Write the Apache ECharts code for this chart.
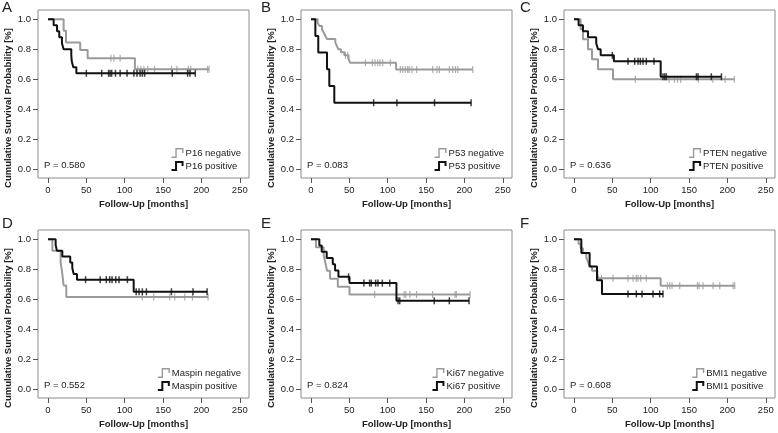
<!DOCTYPE html>
<html><head><meta charset="utf-8">
<script src="https://cdn.jsdelivr.net/npm/echarts@6/dist/echarts.min.js"></script>
<style>html,body{margin:0;padding:0;background:#fff}#c{width:778px;height:433px}</style>
</head><body><div id="c"></div>
<script>
// ---- tick labels / texts ----
const xTicks = [0, 50, 100, 150, 200, 250];
const yTicks = [0, 0.2, 0.4, 0.6, 0.8, 1.0];
const panelLetters = ['A', 'B', 'C', 'D', 'E', 'F'];
const markers = ['P16', 'P53', 'PTEN', 'Maspin', 'Ki67', 'BMI1'];
const pValues = ['0.580', '0.083', '0.636', '0.552', '0.824', '0.608'];
const xTitle = 'Follow-Up [months]';
const yTitle = 'Cumulative Survival Probability [%]';

// ---- Panel A: P16 ----
const A_negT = [0, 20.4, 23.5, 42, 51.7, 113.3];
const A_negS = [1, 0.923, 0.846, 0.795, 0.74, 0.667];
const A_negC = [82, 86, 94, 117, 121, 125, 130, 139, 161, 168, 183, 186, 208, 210];
const A_posT = [0, 7.4, 11.8, 14.7, 18.2, 20.4, 30.4, 31, 33, 37];
const A_posS = [1, 0.96, 0.92, 0.88, 0.84, 0.80, 0.76, 0.72, 0.68, 0.64];
const A_posC = [50, 70, 79, 81, 83, 88, 94, 103, 112, 116, 120, 123, 126, 162, 182, 185, 192];

// ---- Panel B: P53 ----
const B_negT = [0, 8.7, 10.9, 14.3, 16.5, 18.7, 20.9, 31.7, 33.5, 35.7, 39, 43.5, 49, 51, 110.9];
const B_negS = [1, 0.978, 0.956, 0.934, 0.912, 0.89, 0.868, 0.846, 0.824, 0.80, 0.78, 0.76, 0.735, 0.71, 0.665];
const B_negC = [45, 48, 71, 80, 83.5, 87, 90, 93.5, 103.5, 116.5, 119.6, 123, 126, 128, 131.7, 137.8, 158.7, 164.3, 167.4, 180.4, 184.8, 188.3, 191.3, 210.9];
const B_posT = [0, 5.7, 9.5, 20.9, 23.9, 30.4];
const B_posS = [1, 0.889, 0.778, 0.667, 0.556, 0.444];
const B_posC = [81.7, 112, 161, 208.7];

// ---- Panel C: PTEN ----
const C_negT = [0, 8.7, 11.7, 18.3, 23.5, 31.3, 50.9];
const C_negS = [1, 0.933, 0.867, 0.80, 0.733, 0.667, 0.60];
const C_negC = [80, 124, 131, 135, 139, 162, 181, 197, 209];
const C_posT = [0, 6, 11.7, 18.3, 29, 31.3, 34.8, 52, 113];
const C_posS = [1, 0.96, 0.92, 0.88, 0.84, 0.80, 0.76, 0.72, 0.617];
const C_posC = [50, 70.4, 79.1, 83.5, 86.5, 90, 94.3, 104.3, 116, 118.3, 120.4, 159.6, 161.7, 179, 192.2];

// ---- Panel D: Maspin ----
const D_negT = [0, 5.7, 16.5, 18.7, 20.4, 23.9];
const D_negS = [1, 0.923, 0.846, 0.769, 0.692, 0.615];
const D_negC = [123, 137.8, 158.7, 165.2, 178.3, 188.3, 208.7];
const D_posT = [0, 10, 11.7, 18.7, 29, 31.7, 33.5, 37.8, 111.7];
const D_posS = [1, 0.962, 0.923, 0.885, 0.846, 0.808, 0.769, 0.731, 0.65];
const D_posC = [49, 68, 76, 80.4, 83.5, 88.3, 92.6, 103.5, 115, 118.7, 123, 128.3, 160.9, 189, 207.4];

// ---- Panel E: Ki67 ----
const E_negT = [0, 6.5, 16.6, 18.8, 21, 24.9, 35, 50.2];
const E_negS = [1, 0.947, 0.895, 0.842, 0.79, 0.737, 0.684, 0.632];
const E_negC = [83, 121.4, 123.6, 128.8, 137.6, 158.5, 187.8, 189.5, 207.4];
const E_posT = [0, 10.9, 14, 20.5, 28.4, 31.4, 35.8, 50.2, 111.4];
const E_posS = [1, 0.958, 0.917, 0.875, 0.833, 0.792, 0.75, 0.708, 0.59];
const E_posC = [49, 69, 76.4, 78.6, 84.3, 87.3, 93, 102.6, 113.5, 115.7, 160.7, 180.3, 206];

// ---- Panel F: BMI1 ----
const F_negT = [0, 6, 8.7, 11.7, 16, 18.3, 20.4, 23.5, 30.4, 32.2, 113];
const F_negS = [1, 0.97, 0.94, 0.91, 0.88, 0.85, 0.82, 0.79, 0.765, 0.74, 0.69];
const F_negC = [35.7, 50.9, 70.4, 77, 81.3, 83.5, 87, 94.3, 121.7, 124.8, 127.8, 137.8, 160.9, 163, 168.3, 181.3, 190, 207.4, 209.6];
const F_posT = [0, 9.6, 20.4, 30, 36.5];
const F_posS = [1, 0.909, 0.818, 0.727, 0.636];
const F_posC = [70.4, 81.3, 88.7, 103, 111.7, 116];

const curves = [
  [A_negT, A_negS, A_negC, A_posT, A_posS, A_posC],
  [B_negT, B_negS, B_negC, B_posT, B_posS, B_posC],
  [C_negT, C_negS, C_negC, C_posT, C_posS, C_posC],
  [D_negT, D_negS, D_negC, D_posT, D_posS, D_posC],
  [E_negT, E_negS, E_negC, E_posT, E_posS, E_posC],
  [F_negT, F_negS, F_negC, F_posT, F_posS, F_posC]
];

// ---- layout / style ----
const colLeft = [38, 301, 564];
const rowTop = [10, 230];
const letterLeft = [2, 261, 520];
const letterTop = [0, 216];
const GW = 211, GH = 168;
const GRAY = '#9a9a9a', BLACK = '#111111';
const FONT = 'Liberation Sans, Arial, sans-serif';

function survAt(t, T, S) {
  let v = S[0];
  for (let i = 0; i < T.length; i++) if (T[i] <= t) v = S[i];
  return v;
}
function lineData(T, S, C) {
  const d = T.map((t, i) => [t, S[i]]);
  const end = Math.max(...C);
  if (end > T[T.length - 1]) d.push([end, S[S.length - 1]]);
  return d;
}
function stepIcon(th) {
  return 'path://M0,' + (10 - th) + ' L' + (4.5 - th / 2) + ',' + (10 - th) + ' L' + (4.5 - th / 2) + ',0 L12,0 L12,5 L' + (12 - th) + ',5 L' + (12 - th) + ',' + th +
    ' L' + (4.5 + th / 2) + ',' + th + ' L' + (4.5 + th / 2) + ',10 L0,10 Z';
}

const grids = [], xAxes = [], yAxes = [], series = [], legends = [], titles = [], graphics = [];
for (let p = 0; p < 6; p++) {
  const col = p % 3, row = Math.floor(p / 3);
  const L = colLeft[col], T0 = rowTop[row];
  grids.push({ left: L, top: T0, width: GW, height: GH, show: true, borderColor: '#8c8c8c', borderWidth: 1, backgroundColor: 'transparent' });
  xAxes.push({
    type: 'value', gridIndex: p, min: -13, max: 262,
    name: xTitle, nameLocation: 'middle', nameGap: 21,
    nameTextStyle: { fontFamily: FONT, fontWeight: 'bold', fontSize: 9.5, color: '#222' },
    axisLine: { show: false, onZero: false },
    axisTick: { show: true, length: 5, customValues: xTicks, lineStyle: { color: '#555' } },
    axisLabel: { customValues: xTicks, margin: 7, fontFamily: FONT, fontSize: 9.5, color: '#222' },
    splitLine: { show: false }
  });
  yAxes.push({
    type: 'value', gridIndex: p, min: -0.058, max: 1.062,
    axisLine: { show: false, onZero: false },
    axisTick: { show: true, length: 5, customValues: yTicks, lineStyle: { color: '#555' } },
    axisLabel: { customValues: yTicks, margin: 7, fontFamily: FONT, fontSize: 9.5, color: '#222', formatter: v => v.toFixed(1) },
    splitLine: { show: false }
  });
  graphics.push({
    type: 'text', x: L - 30, y: T0 + 98, rotation: Math.PI / 2, silent: true,
    style: { text: yTitle, fontFamily: FONT, fontWeight: 'bold', fontSize: 9.5, fill: '#222', align: 'center', verticalAlign: 'middle' }
  });
  const [nT, nS, nC, pT, pS, pC] = curves[p];
  const negName = markers[p] + ' negative', posName = markers[p] + ' positive';
  series.push({
    type: 'line', name: negName, xAxisIndex: p, yAxisIndex: p, step: 'end', symbol: 'none',
    data: lineData(nT, nS, nC), lineStyle: { color: GRAY, width: 2 }, itemStyle: { color: GRAY }, z: 2
  });
  series.push({
    type: 'line', name: posName, xAxisIndex: p, yAxisIndex: p, step: 'end', symbol: 'none',
    data: lineData(pT, pS, pC), lineStyle: { color: BLACK, width: 2 }, itemStyle: { color: BLACK }, z: 3
  });
  series.push({
    type: 'scatter', name: negName + ' censored', xAxisIndex: p, yAxisIndex: p, symbol: 'rect', symbolSize: [1.2, 7],
    data: nC.map(t => [t, survAt(t, nT, nS)]), itemStyle: { color: GRAY }, z: 2
  });
  series.push({
    type: 'scatter', name: posName + ' censored', xAxisIndex: p, yAxisIndex: p, symbol: 'rect', symbolSize: [1.5, 7],
    data: pC.map(t => [t, survAt(t, pT, pS)]), itemStyle: { color: BLACK }, z: 3
  });
  legends.push({
    orient: 'vertical', right: 778 - (L + GW) + 8, top: T0 + 138, padding: 0, itemGap: 3,
    itemWidth: 12, itemHeight: 10, selectedMode: false,
    textStyle: { fontFamily: FONT, fontSize: 9.5, color: '#222', padding: [0, 0, 0, -3] },
    data: [{ name: negName, icon: stepIcon(1.4) }, { name: posName, icon: stepIcon(2) }]
  });
  titles.push({ text: panelLetters[p], left: letterLeft[col], top: letterTop[row], padding: 0,
    textStyle: { fontFamily: FONT, fontSize: 15, fontWeight: 'normal', color: '#222' } });
  titles.push({ text: 'P = ' + pValues[p], left: L + 6, top: T0 + 150, padding: 0,
    textStyle: { fontFamily: FONT, fontSize: 9.5, fontWeight: 'normal', color: '#222' } });
}

const chart = echarts.init(document.getElementById('c'), null, { renderer: 'canvas' });
chart.setOption({
  animation: false, backgroundColor: '#fff',
  title: titles, grid: grids, xAxis: xAxes, yAxis: yAxes, legend: legends, series: series, graphic: graphics
});
</script></body></html>
